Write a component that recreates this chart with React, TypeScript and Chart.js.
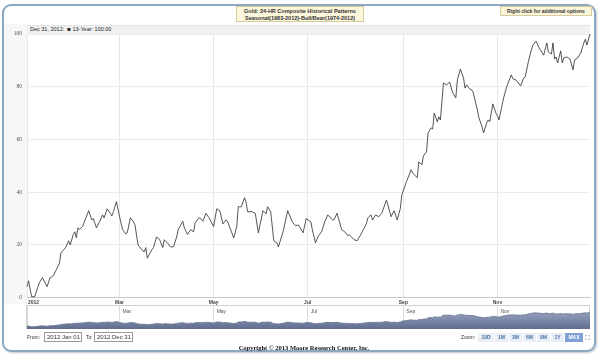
import React, { useEffect, useRef } from "react";
import { Chart, registerables } from "chart.js";

Chart.register(...registerables);

// Day of year (0 = Jan 1, 2012) for each sample
const DAYS = [
  // Jan - Feb
  0, 1, 3, 5, 8, 10, 13, 15, 17, 19, 21, 22, 25, 27, 28, 30, 31, 32, 33, 34, 36, 38, 40, 42, 43, 45, 47, 49, 50, 52, 54, 55, 56, 58,
  // Mar - Apr
  60, 62, 64, 65, 67, 69, 70, 72, 75, 76, 77, 78, 81, 82, 84, 86, 88, 89, 91, 93, 95, 97, 98, 101, 102, 104, 106, 108, 109, 111, 112, 114, 116, 118,
  // May - Jun
  121, 123, 125, 127, 129, 130, 134, 136, 137, 139, 141, 142, 143, 146, 148, 150, 153, 155, 156, 158, 160, 162, 163, 166, 169, 172, 174, 176, 179,
  // Jul - Aug
  181, 184, 185, 187, 189, 191, 193, 195, 198, 199, 201, 202, 204, 206, 208, 209, 212, 214, 216, 218, 220, 221, 223, 224, 226, 228, 230, 233, 234, 236, 238, 240, 242,
  // Sep - Oct
  243, 246, 249, 250, 253, 254, 256, 257, 259, 260, 262, 263, 264, 266, 267, 268, 270, 272, 274, 276, 278, 279, 281, 283, 284, 285, 287, 289, 292, 293, 295, 296, 298, 299, 300, 302, 304,
  // Nov - Dec
  305, 306, 308, 309, 311, 314, 315, 317, 318, 320, 322, 323, 325, 327, 328, 330, 332, 335, 337, 338, 340, 341, 342, 343, 344, 346, 347, 348, 350, 352, 354, 355, 357, 359, 361, 362, 363, 365,
];

// 13-Year composite values
const VALUES = [
  // Jan - Feb
  4.2, 6.4, 0.4, 0.4, 5.7, 7.6, 4.2, 7.6, 8.3, 10.6, 13, 17, 19, 21.6, 20, 24, 25, 22.7, 26.5, 25.8, 27, 30, 33, 29.5, 30, 26.5, 28.8, 31.4, 30.3, 33.7, 32, 31, 32.6, 36.4,
  // Mar - Apr
  30.7, 25.8, 24.2, 24.6, 30.3, 28.8, 27.6, 20, 17.8, 17.4, 19, 15, 18.2, 19, 23, 22, 19, 22, 20.8, 19.3, 19.3, 23, 25.8, 29, 26.5, 24, 25.8, 25, 28.4, 30, 30.3, 29, 32, 30.3,
  // May - Jun
  27, 33.7, 33, 28, 29.5, 29, 22.7, 27, 34.5, 34.5, 37.9, 36.4, 32.6, 32.6, 32, 24.6, 33, 31.8, 34.5, 32.6, 21.6, 20.8, 19.3, 25, 33, 28.8, 27.3, 27.6, 24.6,
  // Jul - Aug
  30, 28.8, 25.8, 20.8, 23.5, 25, 28.8, 31.4, 29.5, 29.5, 32, 30, 25.8, 25, 23.5, 23.9, 22, 21.6, 23.5, 25.8, 28, 30.3, 31.4, 29.5, 31.4, 30.7, 32, 37, 35.2, 30.7, 33, 29.5, 33.7,
  // Sep - Oct
  39, 44, 48.5, 47.3, 45.5, 51.5, 50.4, 53.8, 55.3, 62.5, 64.4, 64, 70, 66.7, 68.6, 67.4, 81.4, 80.7, 81.8, 77.7, 75.8, 82.6, 86.7, 83.3, 79.5, 80.7, 79.2, 78.4, 71.2, 68.2, 64.8, 62.5, 66.3, 67.4, 66.7, 73.5, 70,
  // Nov - Dec
  69, 67.4, 73, 75.8, 80, 84.5, 83, 82.6, 81.8, 80.3, 83.3, 83.7, 89.4, 94, 95.8, 97.3, 94.7, 92, 96.6, 93.2, 92.4, 96.6, 90.5, 91.3, 89, 93.6, 89, 90.9, 91.3, 90.5, 86.4, 90.2, 90.9, 92.8, 96.6, 98, 95.8, 100,
];

const MONTH_TICKS = [0, 60, 121, 182, 244, 305];
const MONTH_LABELS = ["2012", "Mar", "May", "Jul", "Sep", "Nov"];
const NAV_LABELS = ["", "Mar", "May", "Jul", "Sep", "Nov"];
const Y_TICKS = [0, 20, 40, 60, 80, 100];
const ZOOM_BUTTONS = ["10D", "1M", "3M", "6M", "9M", "1Y", "MAX"];

const SMALL_FONT = "'Liberation Sans', 'DejaVu Sans', sans-serif";

function points() {
  return DAYS.map((d, i) => ({ x: d, y: VALUES[i] }));
}

function MainChart() {
  const ref = useRef<HTMLCanvasElement | null>(null);
  useEffect(() => {
    const monthLabelPlugin = {
      id: "monthLabels",
      afterDraw(chart: any) {
        const ctx = chart.ctx;
        const xs = chart.scales.x;
        ctx.save();
        ctx.font = `bold 5px ${SMALL_FONT}`;
        ctx.fillStyle = "#444";
        ctx.textBaseline = "middle";
        MONTH_TICKS.forEach((v, i) => {
          const px = xs.getPixelForValue(v);
          ctx.textAlign = i === 0 ? "left" : "center";
          ctx.fillText(MONTH_LABELS[i], i === 0 ? px + 1 : px, 302.5);
        });
        ctx.restore();
      },
    };
    const chart = new Chart(ref.current as HTMLCanvasElement, {
      type: "line",
      data: {
        datasets: [
          {
            data: points(),
            borderColor: "#2b2b2b",
            borderWidth: 0.8,
            pointRadius: 0,
            tension: 0,
            clip: 3,
          },
        ],
      },
      options: {
        responsive: false,
        animation: false,
        layout: { padding: { left: 0, right: 10, top: 34, bottom: 0 } },
        plugins: { legend: { display: false }, tooltip: { enabled: false } },
        scales: {
          x: {
            type: "linear",
            min: 0,
            max: 365,
            afterBuildTicks: (s: any) => {
              s.ticks = MONTH_TICKS.map((v) => ({ value: v }));
            },
            afterFit: (s: any) => {
              s.height = 8;
            },
            ticks: { display: false },
            grid: { color: "#e8e8e8", drawTicks: false },
            border: { display: true, color: "#c8c8c8" },
          },
          y: {
            min: 0,
            max: 100,
            afterBuildTicks: (s: any) => {
              s.ticks = Y_TICKS.map((v) => ({ value: v }));
            },
            afterFit: (s: any) => {
              s.width = 27;
            },
            ticks: {
              padding: 5,
              color: "#555",
              font: { size: 5.5, family: "'Liberation Serif', serif" },
            },
            grid: { color: "#ececec", drawTicks: false },
            border: { display: false },
          },
        },
      },
      plugins: [monthLabelPlugin],
    } as any);
    return () => chart.destroy();
  }, []);
  return (
    <canvas
      ref={ref}
      width={600}
      height={306}
      style={{ position: "absolute", left: 0, top: 0, width: 600, height: 306 }}
    />
  );
}

function Navigator() {
  const ref = useRef<HTMLCanvasElement | null>(null);
  useEffect(() => {
    const navLabelPlugin = {
      id: "navLabels",
      afterDraw(chart: any) {
        const ctx = chart.ctx;
        const xs = chart.scales.x;
        ctx.save();
        ctx.font = `5px ${SMALL_FONT}`;
        ctx.fillStyle = "#555";
        ctx.textBaseline = "top";
        ctx.textAlign = "left";
        MONTH_TICKS.forEach((v, i) => {
          if (!NAV_LABELS[i]) return;
          ctx.fillText(NAV_LABELS[i], xs.getPixelForValue(v) + 3, 3);
        });
        ctx.restore();
      },
    };
    const chart = new Chart(ref.current as HTMLCanvasElement, {
      type: "line",
      data: {
        datasets: [
          {
            data: points(),
            borderColor: "#66738f",
            borderWidth: 0.8,
            pointRadius: 0,
            tension: 0,
            fill: "start",
            backgroundColor: (c: any) => {
              const area = c.chart.chartArea;
              if (!area) return "#7d89a9";
              const g = c.chart.ctx.createLinearGradient(0, area.top, 0, area.bottom);
              g.addColorStop(0, "#a3adc6");
              g.addColorStop(0.5, "#8591b0");
              g.addColorStop(1, "#5f6c8f");
              return g;
            },
          },
        ],
      },
      options: {
        responsive: false,
        animation: false,
        layout: { padding: 0 },
        plugins: { legend: { display: false }, tooltip: { enabled: false } },
        scales: {
          x: {
            type: "linear",
            min: 0,
            max: 365,
            z: 1,
            afterBuildTicks: (s: any) => {
              s.ticks = MONTH_TICKS.map((v) => ({ value: v }));
            },
            afterFit: (s: any) => {
              s.height = 0;
            },
            ticks: { display: false },
            grid: { color: "rgba(215,215,215,0.9)", drawTicks: false },
            border: { display: false },
          },
          y: {
            min: -15,
            max: 145,
            display: false,
          },
        },
      },
      plugins: [navLabelPlugin],
    } as any);
    return () => chart.destroy();
  }, []);
  return (
    <canvas
      ref={ref}
      width={563}
      height={23}
      style={{ position: "absolute", left: 27, top: 306, width: 563, height: 23 }}
    />
  );
}

export default function App() {
  const abs = (o: any) => ({ position: "absolute" as const, ...o });
  return (
    <div
      style={{
        position: "fixed",
        left: 0,
        top: 0,
        width: 600,
        height: 360,
        background: "#fff",
        overflow: "hidden",
        fontFamily: SMALL_FONT,
      }}
    >
      <div
        style={abs({
          left: 2,
          top: 4,
          width: 590,
          height: 344,
          border: "2px solid #8ea7c0",
          borderRadius: 9,
          boxShadow: "1px 1px 2px rgba(120,140,165,0.5)",
        })}
      />
      <div style={abs({ left: 4, top: 24, width: 23, height: 280, background: "#f7f7f7" })} />
      <div
        style={abs({
          left: 27,
          top: 25,
          width: 563,
          height: 8,
          background: "#f1f1f1",
          borderTop: "1px solid #e2e2e2",
        })}
      />
      <div
        style={abs({
          left: 30,
          top: 26,
          fontSize: 5.5,
          lineHeight: "7px",
          color: "#222",
          whiteSpace: "nowrap",
        })}
      >
        Dec 31, 2012:&nbsp;&nbsp;<span style={{ fontSize: 6 }}>■</span> 13-Year: 100.00
      </div>
      <MainChart />
      <div
        style={abs({
          left: 26,
          top: 305,
          width: 564,
          height: 24,
          border: "1px solid #d0d0d0",
          boxSizing: "border-box",
        })}
      />
      <Navigator />
      <div
        style={abs({
          left: 236,
          top: 6,
          width: 128,
          height: 16,
          background: "#fcf6dc",
          border: "1px solid #d8cc9f",
          boxSizing: "border-box",
          fontSize: 5.5,
          fontWeight: "bold",
          lineHeight: "6.5px",
          textAlign: "center",
          color: "#333",
          paddingTop: 1,
          whiteSpace: "nowrap",
        })}
      >
        Gold: 24-HR Composite Historical Patterns
        <br />
        Seasonal(1983-2012)-Bull/Bear(1974-2012)
      </div>
      <div
        style={abs({
          left: 500,
          top: 6,
          width: 92,
          height: 10,
          background: "#fcf6dc",
          border: "1px solid #d8cc9f",
          boxSizing: "border-box",
          fontSize: 5,
          fontWeight: "bold",
          lineHeight: "8px",
          textAlign: "center",
          color: "#333",
          whiteSpace: "nowrap",
        })}
      >
        Right click for additional options
      </div>
      <div style={abs({ left: 27, top: 334, fontSize: 5, lineHeight: "7px", color: "#333" })}>From:</div>
      <div
        style={abs({
          left: 44,
          top: 332,
          width: 38,
          height: 10,
          border: "1px solid #999",
          boxSizing: "border-box",
          fontSize: 6,
          lineHeight: "8px",
          paddingLeft: 2,
          color: "#333",
          whiteSpace: "nowrap",
        })}
      >
        2012 Jan 01
      </div>
      <div style={abs({ left: 86, top: 334, fontSize: 5, lineHeight: "7px", color: "#333" })}>To:</div>
      <div
        style={abs({
          left: 94,
          top: 332,
          width: 39,
          height: 10,
          border: "1px solid #999",
          boxSizing: "border-box",
          fontSize: 6,
          lineHeight: "8px",
          paddingLeft: 2,
          color: "#333",
          whiteSpace: "nowrap",
        })}
      >
        2012 Dec 31
      </div>
      <div style={abs({ left: 461, top: 334, fontSize: 5, lineHeight: "7px", color: "#333" })}>Zoom:</div>
      <div style={abs({ left: 478, top: 333, display: "flex", gap: 1 })}>
        {ZOOM_BUTTONS.map((b) => (
          <div
            key={b}
            style={{
              width: b === "MAX" ? 18 : b === "10D" ? 16 : 13,
              height: 9,
              background: b === "MAX" ? "#7ea2d6" : "#e9eff7",
              color: b === "MAX" ? "#fff" : "#4b6fa3",
              fontSize: 5,
              fontWeight: "bold",
              lineHeight: "9px",
              textAlign: "center",
            }}
          >
            {b}
          </div>
        ))}
        <div
          style={{
            width: 6,
            height: 9,
            background: "#fff",
            color: "#4a5f80",
            fontSize: 7,
            lineHeight: "9px",
            textAlign: "center",
          }}
        >
          ⛶
        </div>
      </div>
      <div
        style={abs({
          left: 200,
          width: 208,
          top: 344,
          textAlign: "center",
          fontFamily: "'Liberation Serif', serif",
          fontWeight: "bold",
          fontSize: 6.5,
          lineHeight: "8px",
          color: "#111",
          whiteSpace: "nowrap",
        })}
      >
        Copyright © 2013 Moore Research Center, Inc.
      </div>
    </div>
  );
}
